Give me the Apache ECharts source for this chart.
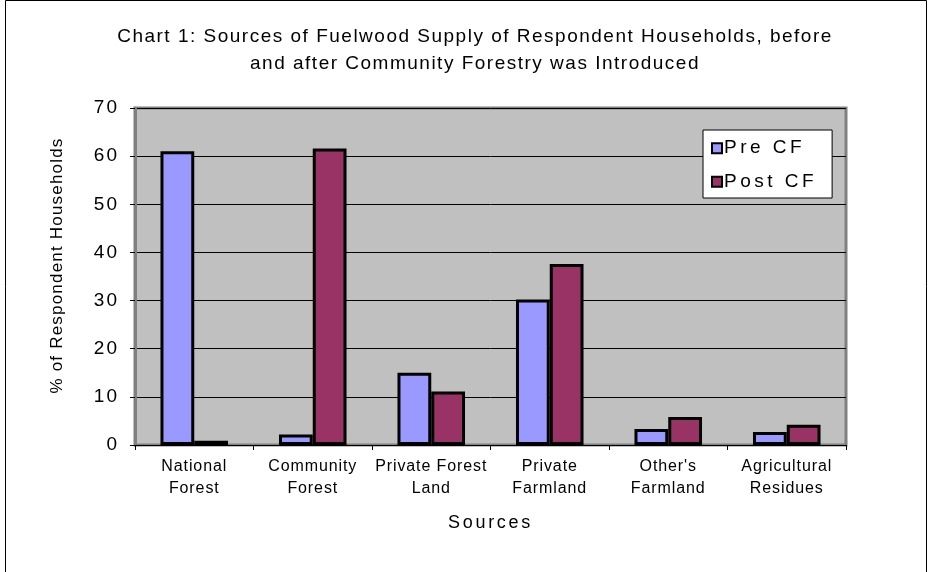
<!DOCTYPE html>
<html>
<head>
<meta charset="utf-8">
<script src="https://cdn.jsdelivr.net/npm/echarts@6/dist/echarts.min.js"></script>
<style>
html,body{margin:0;padding:0;background:#fff;}
#chart{width:928px;height:572px;}
</style>
</head>
<body>
<div id="chart"></div>
<script>
// Excel-like letter spacing on canvas text: a pseudo family "spNN" in the font list sets NN/10 px spacing
(function(){
  var d = Object.getOwnPropertyDescriptor(CanvasRenderingContext2D.prototype, 'font');
  if (!d || !('letterSpacing' in CanvasRenderingContext2D.prototype)) return;
  Object.defineProperty(CanvasRenderingContext2D.prototype, 'font', {
    configurable: true,
    get: function(){ return d.get.call(this); },
    set: function(v){
      d.set.call(this, v);
      var m = /\bsp(\d+)\b/.exec(v);
      var s = m ? parseInt(m[1], 10) / 10 : 0;
      this.letterSpacing = s.toFixed(2) + 'px';
    }
  });
})();

const categories = ['National\nForest', 'Community\nForest', 'Private Forest\nLand', 'Private\nFarmland', "Other's\nFarmland", 'Agricultural\nResidues'];
const preCF = [61, 2.2, 15, 30.2, 3.3, 2.7];
const postCF = [0.9, 61.6, 11.1, 37.6, 5.8, 4.2];
const seriesNames = ['Pre CF', 'Post CF'];
const titleLines = ['Chart 1: Sources of Fuelwood Supply of Respondent Households, before', 'and after Community Forestry was Introduced'];
const xAxisName = 'Sources';
const yAxisName = '% of Respondent Households';
const yMin = 0, yMax = 70, yStep = 10;

function fam(sp){ return '"Liberation Sans", sp' + sp + ', Arial, sans-serif'; }

const chart = echarts.init(document.getElementById('chart'), null, {renderer: 'canvas'});
chart.setOption({
  backgroundColor: '#ffffff',
  animation: false,
  title: {
    text: titleLines.join('\n'),
    left: 470, top: 18, textAlign: 'center',
    textStyle: {fontFamily: fam(15), fontSize: 19, fontWeight: 'normal', color: '#000', lineHeight: 27}
  },
  graphic: [{
    type: 'rect', silent: true,
    shape: {x: 5.5, y: 0.5, width: 921, height: 600},
    style: {fill: null, stroke: '#000', lineWidth: 1}
  }],
  legend: {
    orient: 'vertical', left: 703, top: 130,
    backgroundColor: '#fff', borderColor: '#000', borderWidth: 1,
    padding: [7, 15, 5, 8], itemGap: 11, itemWidth: 10, itemHeight: 10,
    icon: 'rect',
    itemStyle: {borderColor: '#000', borderWidth: 2},
    textStyle: {fontFamily: fam(35), fontSize: 19, color: '#000', padding: [0, 0, 0, -3]},
    data: seriesNames
  },
  grid: {
    left: 135, top: 108, width: 711, height: 337,
    show: true, backgroundColor: '#C0C0C0', borderColor: '#808080', borderWidth: 3,
    containLabel: false
  },
  xAxis: {
    type: 'category', data: categories,
    name: xAxisName, nameLocation: 'middle', nameGap: 68,
    nameTextStyle: {fontFamily: fam(27), fontSize: 18, color: '#000'},
    axisLine: {show: true, lineStyle: {color: '#000', width: 1}},
    axisTick: {show: true, alignWithLabel: false, length: 5, lineStyle: {color: '#000'}},
    axisLabel: {fontFamily: fam(9), fontSize: 16, color: '#000', margin: 11, lineHeight: 22, interval: 0},
    splitLine: {show: false}
  },
  yAxis: {
    type: 'value', min: yMin, max: yMax, interval: yStep,
    name: yAxisName, nameLocation: 'middle', nameGap: 69,
    nameTextStyle: {fontFamily: fam(12), fontSize: 17, color: '#000', padding: [0, 0, 0, 22]},
    axisLine: {show: true, lineStyle: {color: '#808080', width: 3}},
    axisTick: {show: true, inside: false, length: 5, lineStyle: {color: '#000'}},
    axisLabel: {fontFamily: fam(20), fontSize: 19, color: '#000', margin: 16},
    splitLine: {show: true, lineStyle: {color: '#000', width: 1}}
  },
  series: [
    {name: seriesNames[0], type: 'bar', data: preCF, barGap: '0%', barCategoryGap: '43%',
     itemStyle: {color: '#9999FF', borderColor: '#000', borderWidth: 3}},
    {name: seriesNames[1], type: 'bar', data: postCF, barGap: '0%', barCategoryGap: '43%',
     itemStyle: {color: '#993366', borderColor: '#000', borderWidth: 3}}
  ]
});
</script>
</body>
</html>
